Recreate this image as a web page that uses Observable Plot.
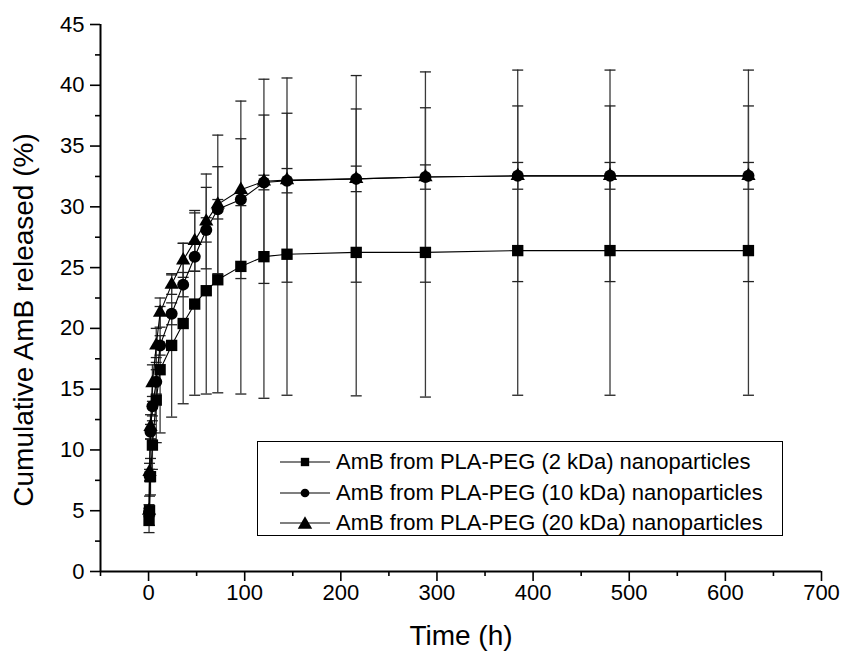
<!DOCTYPE html>
<html><head><meta charset="utf-8">
<script src="https://cdn.jsdelivr.net/npm/d3@7"></script>
<script src="https://cdn.jsdelivr.net/npm/@observablehq/plot@0.6"></script>
<style>
html,body{margin:0;padding:0;background:#fff;}
#wrap{position:relative;width:842px;height:660px;font-family:"Liberation Sans",Arial,sans-serif;}
#legend{position:absolute;left:257px;top:441px;width:526px;height:95px;border:1px solid #000;box-sizing:border-box;background:#fff;}
.row{position:absolute;left:22px;height:30px;display:flex;align-items:center;font-size:22px;color:#000;white-space:nowrap;}
.row svg{margin-right:6px;}
</style></head><body><div id="wrap"><div id="chart"></div><div id="legend"></div></div>
<script>
// Data
const times = [0.5, 1, 2, 4, 8, 12, 24, 36, 48, 60, 72, 96, 120, 144, 216, 288, 384, 480, 624];
const seriesNames = [
  "AmB from PLA-PEG (2 kDa) nanoparticles",
  "AmB from PLA-PEG (10 kDa) nanoparticles",
  "AmB from PLA-PEG (20 kDa) nanoparticles"
];
const release2kDa  = [4.2, 5.0, 7.8, 10.4, 14.1, 16.6, 18.6, 20.4, 22.0, 23.1, 24.0, 25.1, 25.9, 26.1, 26.25, 26.25, 26.4, 26.4, 26.4];
const error2kDa    = [1.0, 1.2, 1.5, 2.0, 3.5, 5.2, 5.9, 6.6, 7.5, 8.5, 9.3, 10.5, 11.65, 11.6, 11.8, 11.9, 11.9, 11.9, 11.9];
const release10kDa = [4.9, 7.9, 11.5, 13.6, 15.6, 18.6, 21.2, 23.6, 25.9, 28.1, 29.8, 30.6, 32.0, 32.15, 32.3, 32.45, 32.55, 32.55, 32.55];
const error10kDa   = [0.3, 0.5, 0.6, 0.8, 1.0, 0.8, 0.9, 1.0, 1.2, 1.0, 0.8, 0.5, 0.6, 1.0, 1.05, 1.0, 1.1, 1.1, 1.1];
const release20kDa = [5.0, 8.2, 11.9, 15.5, 18.6, 21.3, 23.6, 25.6, 27.2, 28.8, 30.2, 31.4, 32.1, 32.2, 32.3, 32.45, 32.55, 32.55, 32.55];
const error20kDa   = [0.5, 0.7, 1.0, 1.5, 1.4, 1.2, 0.8, 1.4, 2.5, 3.9, 5.7, 7.3, 8.4, 8.4, 8.5, 8.65, 8.7, 8.7, 8.7];
const xMajorTicks = [0, 100, 200, 300, 400, 500, 600, 700];
const xMinorTicks = [-50, 50, 150, 250, 350, 450, 550, 650];
const yMajorTicks = [0, 5, 10, 15, 20, 25, 30, 35, 40, 45];
const yMinorTicks = [2.5, 7.5, 12.5, 17.5, 22.5, 27.5, 32.5, 37.5, 42.5];
const xLabel = "Time (h)";
const yLabel = "Cumulative AmB released (%)";

const values = [release2kDa, release10kDa, release20kDa];
const errors = [error2kDa, error10kDa, error20kDa];
const symbols = ["square", "circle", "triangle"];
const radii = [6.4, 6, 5.3];

const rows = seriesNames.flatMap((s, i) => times.map((t, j) => ({series: s, idx: i, t, v: values[i][j], e: errors[i][j]})));

const cap = {draw(ctx) { ctx.moveTo(-5.5, 0); ctx.lineTo(5.5, 0); }};

const font = '"Liberation Sans", Arial, sans-serif';
const chart = Plot.plot({
  width: 842, height: 660,
  marginLeft: 100, marginRight: 21, marginTop: 24, marginBottom: 89,
  x: {domain: [-50, 700]},
  y: {domain: [0, 45]},
  style: {fontFamily: font, fontSize: "22px", color: "#000", background: "#fff", overflow: "visible"},
  marks: [
    Plot.ruleX(rows, {x: "t", y1: d => d.v - d.e, y2: d => d.v + d.e, stroke: "#3a3a3a", strokeWidth: 1.3}),
    Plot.dot(rows, {x: "t", y: d => d.v - d.e, symbol: cap, fill: "none", stroke: "#222", strokeWidth: 1.3}),
    Plot.dot(rows, {x: "t", y: d => d.v + d.e, symbol: cap, fill: "none", stroke: "#222", strokeWidth: 1.3}),
    Plot.line(rows, {x: "t", y: "v", z: "series", stroke: "#000", strokeWidth: 1.1}),
    ...seriesNames.map((s, i) => Plot.dot(rows.filter(d => d.idx === i), {x: "t", y: "v", symbol: symbols[i], r: radii[i], fill: "#000", stroke: "none"})),
    Plot.axisX({ticks: xMajorTicks, tickSize: 10, tickPadding: 3, tickFormat: d => String(d), label: null, strokeWidth: 1.6}),
    Plot.axisX({ticks: xMinorTicks, tickSize: 5, tickFormat: () => "", label: null, strokeWidth: 1.6}),
    Plot.axisY({ticks: yMajorTicks, tickSize: 10, tickPadding: 6, tickFormat: d => String(d), label: null, strokeWidth: 1.6}),
    Plot.axisY({ticks: yMinorTicks, tickSize: 5, tickFormat: () => "", label: null, strokeWidth: 1.6}),
    Plot.ruleY([0], {stroke: "#000", strokeWidth: 2}),
    Plot.ruleX([-50], {stroke: "#000", strokeWidth: 2}),
    Plot.text([xLabel], {frameAnchor: "bottom", dy: 65, fontSize: 28, lineAnchor: "middle"}),
    Plot.text([yLabel], {frameAnchor: "left", textAnchor: "middle", rotate: -90, dx: -76, dy: 22, fontSize: 28, lineAnchor: "middle"})
  ]
});
document.getElementById("chart").appendChild(chart);

// Legend
const legend = document.getElementById("legend");
const rowTops = [5, 36, 66];
seriesNames.forEach((s, i) => {
  const row = document.createElement("div");
  row.className = "row";
  row.style.top = rowTops[i] + "px";
  const sym = d3.symbol(d3["symbol" + symbols[i][0].toUpperCase() + symbols[i].slice(1)], [70, 60, 90][i])();
  row.innerHTML = `<svg width="50" height="20" viewBox="0 0 50 20"><line x1="0" x2="50" y1="10" y2="10" stroke="#000" stroke-width="1.2"/><path transform="translate(25,${i === 2 ? 11.5 : 10})" d="${sym}" fill="#000"/></svg><span>${s}</span>`;
  legend.appendChild(row);
});
</script>
</body></html>
